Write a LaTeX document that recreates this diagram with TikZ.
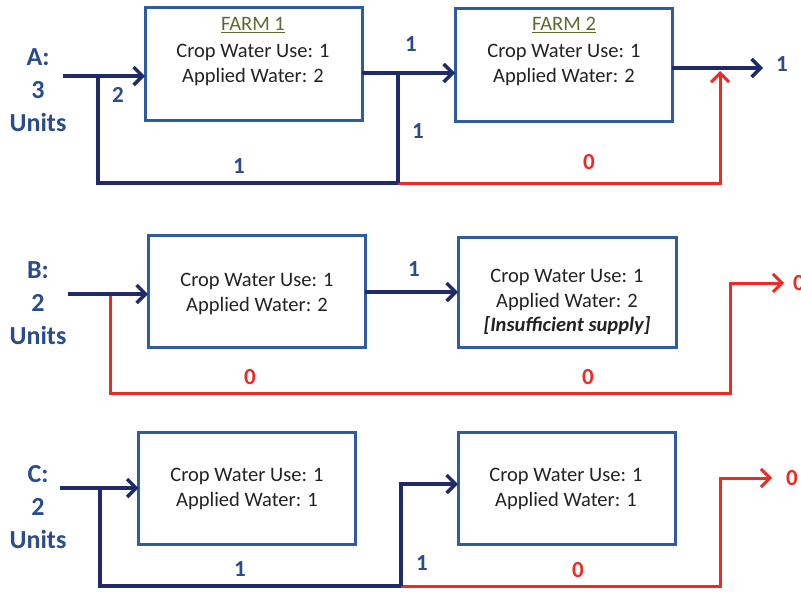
\documentclass[tikz,border=0pt]{standalone}
\usepackage{fontspec}
\setmainfont{Carlito}
\usetikzlibrary{arrows.meta}
\definecolor{boxblue}{HTML}{2F5C9E}
\definecolor{navy}{HTML}{1F2A6B}
\definecolor{lblue}{HTML}{2A4B8C}
\definecolor{wred}{HTML}{EE2A24}
\definecolor{olive}{HTML}{5A6B2E}
\definecolor{txt}{HTML}{222222}
\begin{document}
\begin{tikzpicture}[x=1pt,y=-1pt,
  farmbox/.style={draw=boxblue,line width=3pt,rectangle,inner sep=0pt,outer sep=0pt},
  btxt/.style={text=txt,font=\fontsize{20.5}{24.5}\selectfont,align=center,inner sep=0pt},
  ttl/.style={text=olive,font=\fontsize{20.5}{24.5}\selectfont,inner sep=0pt},
  flow/.style={draw=navy,line width=3.5pt},
  rflow/.style={draw=wred,line width=3pt},
  tip/.style={-{Straight Barb[length=9pt,width=18pt]}},
  side/.style={text=lblue,font=\bfseries\fontsize{26}{33}\selectfont,align=center,inner sep=0pt},
  num/.style={text=lblue,font=\bfseries\fontsize{23}{23}\selectfont,inner sep=0pt},
  rnum/.style={text=wred,font=\bfseries\fontsize{23}{23}\selectfont,inner sep=0pt}
]
\useasboundingbox (0,0) rectangle (801,592);

% ---------------- Row A ----------------
\node[farmbox,minimum width=217pt,minimum height=113pt] (f1a) at (253.5,64) {};
\node[farmbox,minimum width=217pt,minimum height=113pt] (f2a) at (563.5,64.5) {};
\node[ttl] (t1a) at (253,25) {\underline{FARM 1}};
\node[btxt] (x1a) at (253,65) {Crop Water Use: 1\\Applied Water: 2};
\node[ttl] (t2a) at (564,25) {\underline{FARM 2}};
\node[btxt] (x2a) at (564,65) {Crop Water Use: 1\\Applied Water: 2};
\node[side] (sa) at (38,90) {A:\\3\\Units};

\coordinate (inA) at (63,76);
\coordinate (brA) at (98,76);
\coordinate (oA) at (398,73);
\coordinate (jA) at (398,183);
\coordinate (rA) at (720,183);
\coordinate (mA) at (720,71);
\coordinate (outA) at (763,68);

\draw[rflow,tip] (jA) -- (rA) -- (mA);
\draw[flow,tip] (inA) -- (inA -| f1a.west);
\draw[flow] (brA) |- (jA);
\draw[flow,tip] (f1a.east |- oA) -- (oA -| f2a.west);
\draw[flow] (oA) -- (jA);
\draw[flow,tip] (f2a.east |- outA) -- (outA);

\node[num] (la1) at (118,95) {2};
\node[num] (la2) at (239,166) {1};
\node[num] (la3) at (411,44) {1};
\node[num] (la4) at (418,131) {1};
\node[rnum] (la5) at (589,162) {0};
\node[num] (la6) at (782,64) {1};

% ---------------- Row B ----------------
\node[farmbox,minimum width=217pt,minimum height=112pt] (f1b) at (256.5,291) {};
\node[farmbox,minimum width=218pt,minimum height=110pt] (f2b) at (567,292) {};
\node[btxt] (x1b) at (257,294) {Crop Water Use: 1\\Applied Water: 2};
\node[btxt] (x2b) at (567,302) {Crop Water Use: 1\\Applied Water: 2\\\textbf{\textit{[Insufficient supply]}}};
\node[side] (sb) at (38,303) {B:\\2\\Units};

\coordinate (inB) at (68,294);
\coordinate (brB) at (110,294);
\coordinate (cB) at (730,393);
\coordinate (outB) at (784,283);
\coordinate (oB) at (366,292);

\draw[rflow,tip] (brB) |- (cB) |- (outB);
\draw[flow,tip] (inB) -- (inB -| f1b.west);
\draw[flow,tip] (f1b.east |- oB) -- (oB -| f2b.west);

\node[num] (lb1) at (414,269) {1};
\node[rnum] (lb2) at (250,377) {0};
\node[rnum] (lb3) at (588,377) {0};
\node[rnum] (lb4) at (799,283) {0};

% ---------------- Row C ----------------
\node[farmbox,minimum width=217pt,minimum height=112pt] (f1c) at (247,488) {};
\node[farmbox,minimum width=217pt,minimum height=112pt] (f2c) at (566.5,488) {};
\node[btxt] (x1c) at (247,489) {Crop Water Use: 1\\Applied Water: 1};
\node[btxt] (x2c) at (566,489) {Crop Water Use: 1\\Applied Water: 1};
\node[side] (sc) at (38,507) {C:\\2\\Units};

\coordinate (inC) at (60,488);
\coordinate (brC) at (100,488);
\coordinate (jC) at (401,586);
\coordinate (uC) at (401,484);
\coordinate (rC) at (720,586);
\coordinate (outC) at (772,478);

\draw[rflow,tip] (jC) -- (rC) |- (outC);
\draw[flow,tip] (inC) -- (inC -| f1c.west);
\draw[flow] (brC) |- (jC);
\draw[flow,tip] (jC) -- (uC) -- (uC -| f2c.west);

\node[num] (lc1) at (240,569) {1};
\node[num] (lc2) at (422,563) {1};
\node[rnum] (lc3) at (578,570) {0};
\node[rnum] (lc4) at (792,478) {0};
\end{tikzpicture}
\end{document}
